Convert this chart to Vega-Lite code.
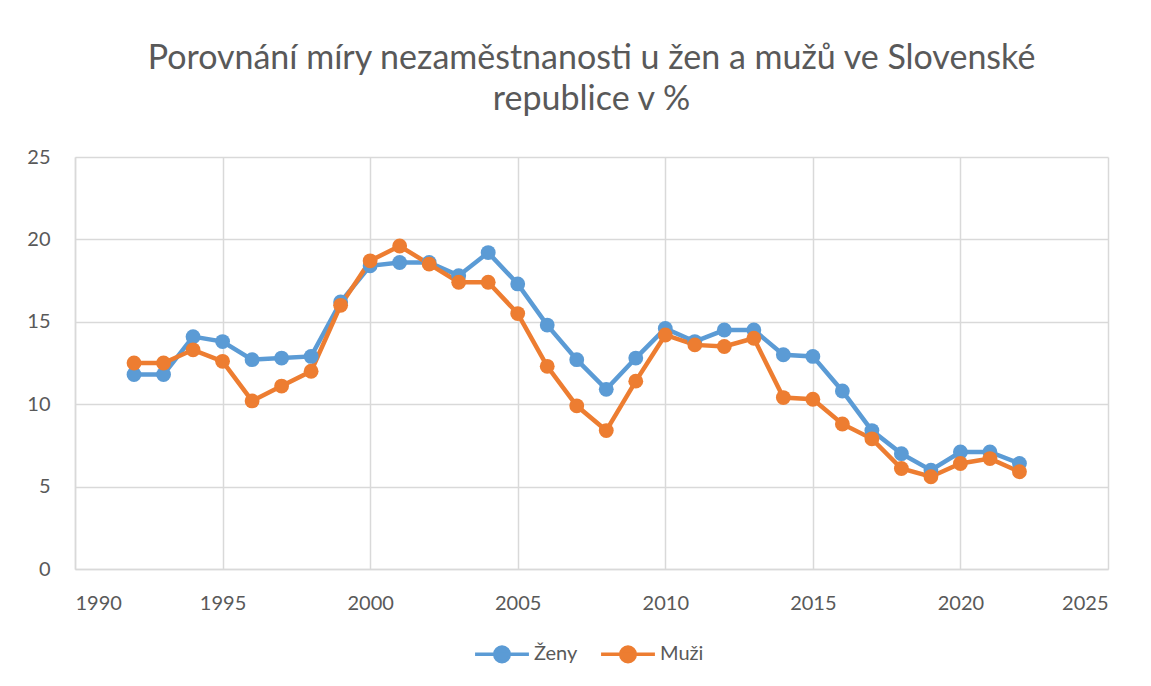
{
  "$schema": "https://vega.github.io/schema/vega-lite/v6.json",
  "width": 1033,
  "height": 412,
  "autosize": {"type": "none"},
  "padding": {"left": 75, "top": 157, "right": 43, "bottom": 117},
  "background": "white",
  "title": {
    "text": ["Porovnání míry nezaměstnanosti u žen a mužů ve Slovenské", "republice v %"],
    "font": "Lato",
    "fontSize": 34,
    "fontWeight": "normal",
    "color": "#595959",
    "anchor": "middle",
    "lineHeight": 41,
    "offset": 30
  },
  "config": {
    "view": {"stroke": null},
    "axis": {
      "labelFont": "Lato",
      "labelFontSize": 20,
      "labelColor": "#595959",
      "gridColor": "#d9d9d9",
      "gridWidth": 1.5,
      "domainColor": "#d9d9d9",
      "domainWidth": 1.5,
      "ticks": false,
      "title": null
    },
    "legend": {"labelFont": "Lato", "labelFontSize": 20, "labelColor": "#595959"}
  },
  "data": {
    "values": [
      {"rok": 1992, "s": "Ženy", "v": 11.8}, {"rok": 1993, "s": "Ženy", "v": 11.8},
      {"rok": 1994, "s": "Ženy", "v": 14.1}, {"rok": 1995, "s": "Ženy", "v": 13.8},
      {"rok": 1996, "s": "Ženy", "v": 12.7}, {"rok": 1997, "s": "Ženy", "v": 12.8},
      {"rok": 1998, "s": "Ženy", "v": 12.9}, {"rok": 1999, "s": "Ženy", "v": 16.2},
      {"rok": 2000, "s": "Ženy", "v": 18.4}, {"rok": 2001, "s": "Ženy", "v": 18.6},
      {"rok": 2002, "s": "Ženy", "v": 18.6}, {"rok": 2003, "s": "Ženy", "v": 17.8},
      {"rok": 2004, "s": "Ženy", "v": 19.2}, {"rok": 2005, "s": "Ženy", "v": 17.3},
      {"rok": 2006, "s": "Ženy", "v": 14.8}, {"rok": 2007, "s": "Ženy", "v": 12.7},
      {"rok": 2008, "s": "Ženy", "v": 10.9}, {"rok": 2009, "s": "Ženy", "v": 12.8},
      {"rok": 2010, "s": "Ženy", "v": 14.6}, {"rok": 2011, "s": "Ženy", "v": 13.8},
      {"rok": 2012, "s": "Ženy", "v": 14.5}, {"rok": 2013, "s": "Ženy", "v": 14.5},
      {"rok": 2014, "s": "Ženy", "v": 13.0}, {"rok": 2015, "s": "Ženy", "v": 12.9},
      {"rok": 2016, "s": "Ženy", "v": 10.8}, {"rok": 2017, "s": "Ženy", "v": 8.4},
      {"rok": 2018, "s": "Ženy", "v": 7.0}, {"rok": 2019, "s": "Ženy", "v": 6.0},
      {"rok": 2020, "s": "Ženy", "v": 7.1}, {"rok": 2021, "s": "Ženy", "v": 7.1},
      {"rok": 2022, "s": "Ženy", "v": 6.4},
      {"rok": 1992, "s": "Muži", "v": 12.5}, {"rok": 1993, "s": "Muži", "v": 12.5},
      {"rok": 1994, "s": "Muži", "v": 13.3}, {"rok": 1995, "s": "Muži", "v": 12.6},
      {"rok": 1996, "s": "Muži", "v": 10.2}, {"rok": 1997, "s": "Muži", "v": 11.1},
      {"rok": 1998, "s": "Muži", "v": 12.0}, {"rok": 1999, "s": "Muži", "v": 16.0},
      {"rok": 2000, "s": "Muži", "v": 18.7}, {"rok": 2001, "s": "Muži", "v": 19.6},
      {"rok": 2002, "s": "Muži", "v": 18.5}, {"rok": 2003, "s": "Muži", "v": 17.4},
      {"rok": 2004, "s": "Muži", "v": 17.4}, {"rok": 2005, "s": "Muži", "v": 15.5},
      {"rok": 2006, "s": "Muži", "v": 12.3}, {"rok": 2007, "s": "Muži", "v": 9.9},
      {"rok": 2008, "s": "Muži", "v": 8.4}, {"rok": 2009, "s": "Muži", "v": 11.4},
      {"rok": 2010, "s": "Muži", "v": 14.2}, {"rok": 2011, "s": "Muži", "v": 13.6},
      {"rok": 2012, "s": "Muži", "v": 13.5}, {"rok": 2013, "s": "Muži", "v": 14.0},
      {"rok": 2014, "s": "Muži", "v": 10.4}, {"rok": 2015, "s": "Muži", "v": 10.3},
      {"rok": 2016, "s": "Muži", "v": 8.8}, {"rok": 2017, "s": "Muži", "v": 7.9},
      {"rok": 2018, "s": "Muži", "v": 6.1}, {"rok": 2019, "s": "Muži", "v": 5.6},
      {"rok": 2020, "s": "Muži", "v": 6.4}, {"rok": 2021, "s": "Muži", "v": 6.7},
      {"rok": 2022, "s": "Muži", "v": 5.9}
    ]
  },
  "mark": {"type": "line", "strokeWidth": 4.5, "point": {"filled": true, "size": 220, "opacity": 1}},
  "encoding": {
    "x": {
      "field": "rok", "type": "quantitative",
      "scale": {"domain": [1990, 2025], "nice": false, "zero": false},
      "axis": {"values": [1990, 1995, 2000, 2005, 2010, 2015, 2020, 2025], "format": "d", "labelPadding": 24}
    },
    "y": {
      "field": "v", "type": "quantitative",
      "scale": {"domain": [0, 25], "nice": false},
      "axis": {"values": [0, 5, 10, 15, 20, 25], "labelPadding": 25}
    },
    "color": {
      "field": "s", "type": "nominal",
      "scale": {"domain": ["Ženy", "Muži"], "range": ["#5b9bd5", "#ed7d31"]},
      "legend": {
        "orient": "none",
        "legendX": 398,
        "legendY": 468,
        "direction": "horizontal",
        "title": null,
        "symbolType": "M -1 0 L 1 0 M -0.27 0 A 0.27 0.27 0 1 1 0.27 0 A 0.27 0.27 0 1 1 -0.27 0 Z",
        "symbolSize": 2900,
        "symbolStrokeWidth": 3.5,
        "columnPadding": 16,
        "labelOffset": 3,
        "encode": {"symbols": {"update": {"fill": {"scale": "color", "field": "value"}, "fillOpacity": {"value": 1}}}}
      }
    },
    "order": {"field": "rok"}
  }
}
